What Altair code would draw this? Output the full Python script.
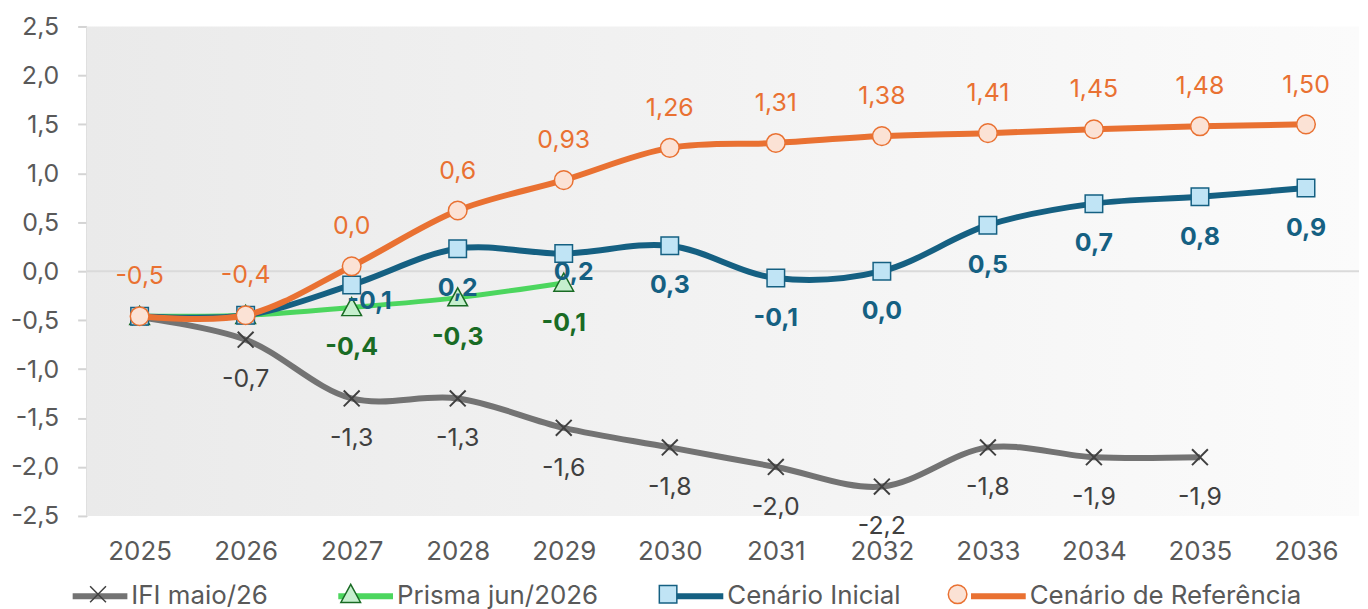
import altair as alt
import pandas as pd

years = [str(y) for y in range(2025, 2037)]
names = ["IFI maio/26", "Prisma jun/2026", "Cenário Inicial", "Cenário de Referência"]

ifi = [-0.47, -0.70, -1.30, -1.30, -1.60, -1.80, -2.00, -2.20, -1.80, -1.90, -1.90]
ifi_lbl = ["", "-0,7", "-1,3", "-1,3", "-1,6", "-1,8", "-2,0", "-2,2", "-1,8", "-1,9", "-1,9"]
prisma = [-0.46, -0.45, -0.37, -0.27, -0.12]
prisma_lbl = ["", "", "-0,4", "-0,3", "-0,1"]
inicial = [-0.46, -0.45, -0.14, 0.23, 0.18, 0.26, -0.07, 0.00, 0.47, 0.69, 0.76, 0.85]
inicial_lbl = ["", "", "-0,1", "0,2", "0,2", "0,3", "-0,1", "0,0", "0,5", "0,7", "0,8", "0,9"]
ref = [-0.46, -0.45, 0.05, 0.62, 0.93, 1.26, 1.31, 1.38, 1.41, 1.45, 1.48, 1.50]
ref_lbl = ["-0,5", "-0,4", "0,0", "0,6", "0,93", "1,26", "1,31", "1,38", "1,41", "1,45", "1,48", "1,50"]

line_colors = ["#737373", "#4CD65E", "#156082", "#E97132"]
marker_fill = ["transparent", "#C6EFCE", "#C0E4F5", "#FBE2D5"]
marker_stroke = ["#404040", "#196B24", "#156082", "#E97132"]
label_colors = ["#404040", "#196B24", "#156082", "#E97132"]
shapes = [
    "M-0.29,-0.29L0.29,0.29M-0.29,0.29L0.29,-0.29",
    "M0,-0.36L0.36,0.3L-0.36,0.3Z",
    "M-0.32,-0.32H0.32V0.32H-0.32Z",
    "M-0.34,0A0.34,0.34,0,1,0,0.34,0A0.34,0.34,0,1,0,-0.34,0Z",
]

ZWS = "\u200b"
names_b = [n + ZWS for n in names]

series_vals = [ifi, prisma, inicial, ref]
series_lbls = [ifi_lbl, prisma_lbl, inicial_lbl, ref_lbl]

frames = []
for i, (vals, lbls) in enumerate(zip(series_vals, series_lbls)):
    frames.append(pd.DataFrame({
        "year": years[:len(vals)],
        "value": vals,
        "label": lbls,
        "series": names[i],
        "series_b": names_b[i],
    }))

W, H = 1279, 492
FONT = "Inter"

x_enc = alt.X("year:O", title=None,
              axis=alt.Axis(labelAngle=0, ticks=False, domain=False, labelFont=FONT,
                            labelFontSize=26, labelColor="#595959", labelPadding=23))
y_enc = alt.Y("value:Q", title=None,
              scale=alt.Scale(domain=[-2.5, 2.5], nice=False, zero=False),
              axis=alt.Axis(values=[-2.5, -2.0, -1.5, -1.0, -0.5, 0, 0.5, 1.0, 1.5, 2.0, 2.5],
                            labelExpr="replace(replace(format(datum.value, '.1f'), '.', ','), '\u2212', '-')",
                            grid=False, domainColor="#d4d4d4", domainWidth=2,
                            tickColor="#d4d4d4", tickWidth=2, tickSize=9,
                            labelFont=FONT, labelFontSize=25, labelColor="#595959",
                            labelPadding=19, minExtent=79, maxExtent=79))

legend_common = dict(orient="none", legendX=-17, legendY=542, direction="horizontal",
                     title=None, symbolSize=3025, labelFont=FONT, labelFontSize=26,
                     labelColor="#595959", labelOffset=1, columnPadding=58, labelLimit=600)

color_enc = alt.Color("series:N", scale=alt.Scale(domain=names, range=line_colors),
                      legend=alt.Legend(symbolType="stroke", symbolStrokeWidth=6, **legend_common))

legend_b = alt.Legend(symbolStrokeWidth=1.5, labelOpacity=0,
                      labelExpr="replace(datum.label, '" + ZWS + "', '')", **legend_common)
shape_enc = alt.Shape("series_b:N", scale=alt.Scale(domain=names_b, range=shapes), legend=legend_b)
fill_enc = alt.Fill("series_b:N", scale=alt.Scale(domain=names_b, range=marker_fill), legend=legend_b)
stroke_enc = alt.Stroke("series_b:N", scale=alt.Scale(domain=names_b, range=marker_stroke), legend=legend_b)

bg = alt.Chart(pd.DataFrame({"a": [0]})).mark_rect(
    color=alt.Gradient(gradient="linear",
                       stops=[alt.GradientStop(color="#eaeaea", offset=0),
                              alt.GradientStop(color="#fbfbfb", offset=1)],
                       x1=0, x2=1, y1=0, y2=0)
).encode(x=alt.value(0), x2=alt.value(W), y=alt.value(0), y2=alt.value(H))

zero = alt.Chart(pd.DataFrame({"a": [0]})).mark_rule(color="#dadada", strokeWidth=2).encode(
    y=alt.datum(0, scale=alt.Scale(domain=[-2.5, 2.5], nice=False, zero=False)))

layers = [bg, zero]
for i, df in enumerate(frames):
    base = alt.Chart(df)
    line = base.mark_line(interpolate="catmull-rom", strokeWidth=5 if i == 1 else 6).encode(
        x=x_enc, y=y_enc, color=color_enc)
    pts = base.mark_point(filled=True, size=3025, strokeWidth=2 if i == 0 else 1.5, opacity=1).encode(
        x=x_enc, y=y_enc, shape=shape_enc, fill=fill_enc, stroke=stroke_enc)
    layers += [line, pts]

text_layers = []
for i, df in enumerate(frames):
    base = alt.Chart(df)
    weight = "bold" if i in (1, 2) else "normal"
    dy = -40 if i == 3 else 40
    if i == 2:
        main = base.transform_filter("datum.year != '2027' && datum.year != '2029'")
        t = main.mark_text(font=FONT, fontSize=25, fontWeight=weight, color=label_colors[i], dy=dy,
                           baseline="middle").encode(x=x_enc, y=y_enc, text="label:N")
        t2 = base.transform_filter("datum.year == '2027'").mark_text(
            font=FONT, fontSize=25, fontWeight=weight, color=label_colors[i], dx=18, dy=16,
            baseline="middle").encode(x=x_enc, y=y_enc, text="label:N")
        t3 = base.transform_filter("datum.year == '2029'").mark_text(
            font=FONT, fontSize=25, fontWeight=weight, color=label_colors[i], dx=10, dy=19,
            baseline="middle").encode(x=x_enc, y=y_enc, text="label:N")
        text_layers += [t, t2, t3]
    else:
        t = base.mark_text(font=FONT, fontSize=25, fontWeight=weight, color=label_colors[i], dy=dy,
                           baseline="middle").encode(x=x_enc, y=y_enc, text="label:N")
        text_layers.append(t)

chart = alt.layer(*(layers + text_layers)).properties(
    width=W, height=H, padding={"left": 0, "right": 0, "top": 5, "bottom": 0},
    background="white"
).configure_view(stroke=None)

chart.save("out.html", embed_options={"renderer": "svg", "actions": False})
